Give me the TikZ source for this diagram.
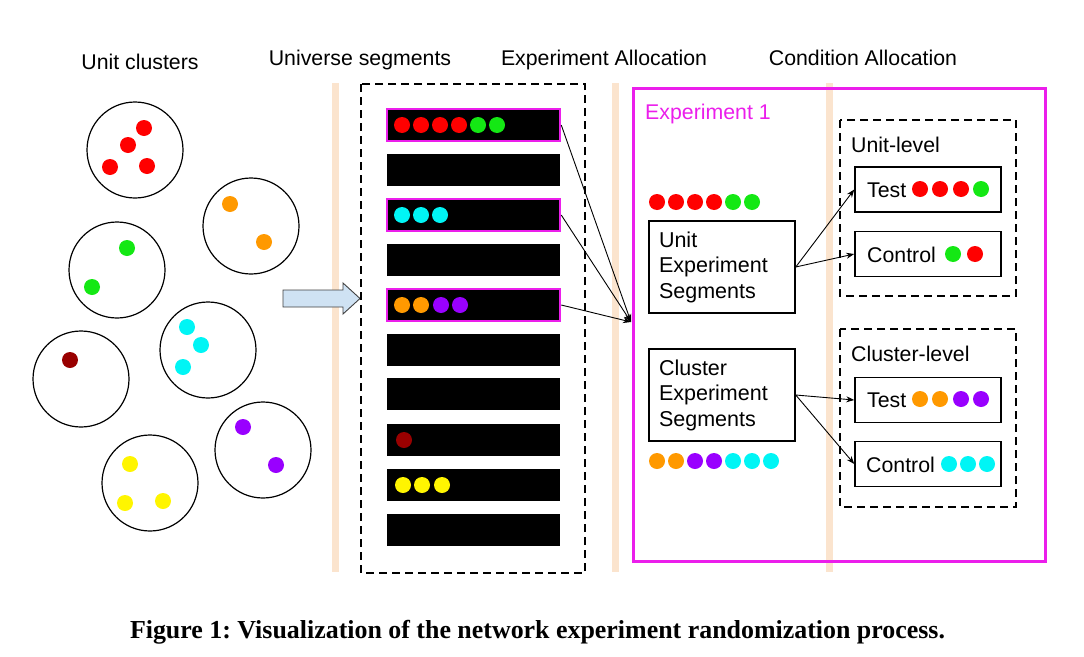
\documentclass[tikz,border=0pt]{standalone}
\usepackage{fontspec}
\usepackage{graphicx}
\setmainfont{Liberation Sans}
\newfontfamily\capfont{Liberation Serif}
\usetikzlibrary{arrows.meta}
\frenchspacing
\definecolor{mred}{RGB}{255,0,0}
\definecolor{mgreen}{RGB}{20,232,20}
\definecolor{morange}{RGB}{255,153,0}
\definecolor{mcyan}{RGB}{0,245,245}
\definecolor{mdred}{RGB}{153,0,0}
\definecolor{mpurple}{RGB}{153,0,255}
\definecolor{myellow}{RGB}{255,245,0}
\definecolor{mmag}{RGB}{235,30,235}
\definecolor{mbeige}{RGB}{251,228,206}
\definecolor{mblue}{RGB}{207,226,243}
\newcommand\mydot[3]{\fill[#1] (#2,#3) circle (8pt);}
\begin{document}
\begin{tikzpicture}[x=1pt,y=-1pt,
  font=\fontsize{21.3}{25.5}\selectfont,
  clus/.style={circle,draw,line width=1.2pt,minimum size=96pt,inner sep=0pt},
  segbar/.style={rectangle,fill=black,minimum width=173pt,minimum height=32pt,inner sep=0pt},
  hiseg/.style={segbar,draw=mmag,line width=2.5pt},
  dashedbox/.style={draw,line width=1.5pt,dash pattern=on 8pt off 5pt},
  segbox/.style={rectangle,draw,line width=1.5pt,minimum width=146pt,minimum height=92pt,
    text width=126pt,inner xsep=10pt,align=left,font=\fontsize{21.5}{25.5}\selectfont},
  condbox/.style={rectangle,draw,line width=1.5pt,minimum width=146pt,minimum height=45pt,inner sep=0pt},
  conn/.style={line width=0.9pt,-{Stealth[length=8pt,width=6pt]}},
  lbl/.style={anchor=base west,inner sep=0pt},
  title/.style={anchor=base,inner sep=0pt}]
\useasboundingbox (0,0) rectangle (1084,656);

% beige separators
\fill[mbeige] (332,83) rectangle (339,572);
\fill[mbeige] (612,83) rectangle (619,572);
\fill[mbeige] (826,83) rectangle (833,572);

% titles
\node[title] (t1) at (140,69) {Unit clusters};
\node[title] (t2) at (360,65) {Universe segments};
\node[title] (t3) at (604,65) {Experiment Allocation};
\node[title] (t4) at (863,65) {Condition Allocation};

% clusters
\node[clus] (c1) at (135,150) {};
\mydot{mred}{144}{128}\mydot{mred}{128}{145}\mydot{mred}{110}{167}\mydot{mred}{147}{166}
\node[clus] (c2) at (251,226) {};
\mydot{morange}{230}{204}\mydot{morange}{264}{242}
\node[clus] (c3) at (117,270) {};
\mydot{mgreen}{127}{248}\mydot{mgreen}{92}{287}
\node[clus] (c4) at (208,350) {};
\mydot{mcyan}{187}{327}\mydot{mcyan}{201}{345}\mydot{mcyan}{183}{367}
\node[clus] (c5) at (81,379) {};
\mydot{mdred}{70}{360}
\node[clus] (c6) at (263,450) {};
\mydot{mpurple}{243}{427}\mydot{mpurple}{276}{465}
\node[clus] (c7) at (150,483) {};
\mydot{myellow}{130}{464}\mydot{myellow}{125}{503}\mydot{myellow}{163}{501}

% block arrow
\filldraw[fill=mblue,draw=black!75,line width=0.9pt]
  (283,290) -- (343,290) -- (343,283) -- (360,298.5) -- (343,314) -- (343,307) -- (283,307) -- cycle;

% universe segments
\draw[dashedbox] (361,84) rectangle (585,573);
\node[hiseg] (seg0) at (473.5,125) {};
\node[segbar] (seg1) at (473.5,170) {};
\node[hiseg] (seg2) at (473.5,215) {};
\node[segbar] (seg3) at (473.5,260) {};
\node[hiseg] (seg4) at (473.5,305) {};
\node[segbar] (seg5) at (473.5,350) {};
\node[segbar] (seg6) at (473.5,394) {};
\node[segbar] (seg7) at (473.5,440) {};
\node[segbar] (seg8) at (473.5,485) {};
\node[segbar] (seg9) at (473.5,530) {};
\mydot{mred}{402}{125}\mydot{mred}{421}{125}\mydot{mred}{440}{125}\mydot{mred}{459}{125}
\mydot{mgreen}{478}{125}\mydot{mgreen}{497}{125}
\mydot{mcyan}{402}{215}\mydot{mcyan}{421}{215}\mydot{mcyan}{440}{215}
\mydot{morange}{402}{305}\mydot{morange}{421}{305}\mydot{mpurple}{441}{305}\mydot{mpurple}{460}{305}
\mydot{mdred}{404}{440}
\mydot{myellow}{403}{485}\mydot{myellow}{422}{485}\mydot{myellow}{442}{485}

% experiment 1
\draw[mmag,line width=3pt] (633,88) rectangle (1045,561);
\node[lbl,text=mmag] (exp1) at (645,119) {Experiment 1};
\coordinate (conv) at (631,322);
\draw[conn] (seg0.east) -- (conv);
\draw[conn] (seg2.east) -- (conv);
\draw[conn] (seg4.east) -- (conv);

\mydot{mred}{657}{202}\mydot{mred}{676}{202}\mydot{mred}{695}{202}\mydot{mred}{714}{202}
\mydot{mgreen}{733}{202}\mydot{mgreen}{752}{202}
\node[segbox] (ues) at (722,267) {Unit\\Experiment\\Segments};
\node[segbox] (ces) at (722,395) {Cluster\\Experiment\\Segments};
\mydot{morange}{657}{461}\mydot{morange}{676}{461}\mydot{mpurple}{695}{461}\mydot{mpurple}{714}{461}
\mydot{mcyan}{733}{461}\mydot{mcyan}{752}{461}\mydot{mcyan}{771}{461}

% unit-level
\draw[dashedbox] (840,120) rectangle (1016,296);
\node[lbl] (ul) at (851,152) {Unit-level};
\node[condbox] (utest) at (928,189.5) {};
\node[lbl] (utestl) at (867,197) {Test};
\mydot{mred}{920}{189}\mydot{mred}{940}{189}\mydot{mred}{961}{189}\mydot{mgreen}{981}{189}
\node[condbox] (uctrl) at (928,254) {};
\node[lbl] (uctrll) at (867,262) {Control};
\mydot{mgreen}{953}{254}\mydot{mred}{975}{254}

% cluster-level
\draw[dashedbox] (840,329) rectangle (1016,507);
\node[lbl] (cl) at (851,361) {Cluster-level};
\node[condbox] (ctest) at (928,400) {};
\node[lbl] (ctestl) at (867,407) {Test};
\mydot{morange}{920}{399}\mydot{morange}{940}{399}\mydot{mpurple}{961}{399}\mydot{mpurple}{981}{399}
\node[condbox] (cctrl) at (928,464) {};
\node[lbl] (cctrll) at (866,472) {Control};
\mydot{mcyan}{949}{464}\mydot{mcyan}{968}{464}\mydot{mcyan}{987}{464}

% allocation arrows
\draw[conn] (ues.east) -- (utest.west);
\draw[conn] (ues.east) -- (uctrl.west);
\draw[conn] (ces.east) -- (ctest.west);
\draw[conn] (ces.east) -- (cctrl.west);

% caption
\node (cap) at (537.5,632) {\resizebox{815pt}{!}{\capfont\bfseries\fontsize{24}{28}\selectfont Figure 1: Visualization of the network experiment randomization process.}};
\end{tikzpicture}
\end{document}
